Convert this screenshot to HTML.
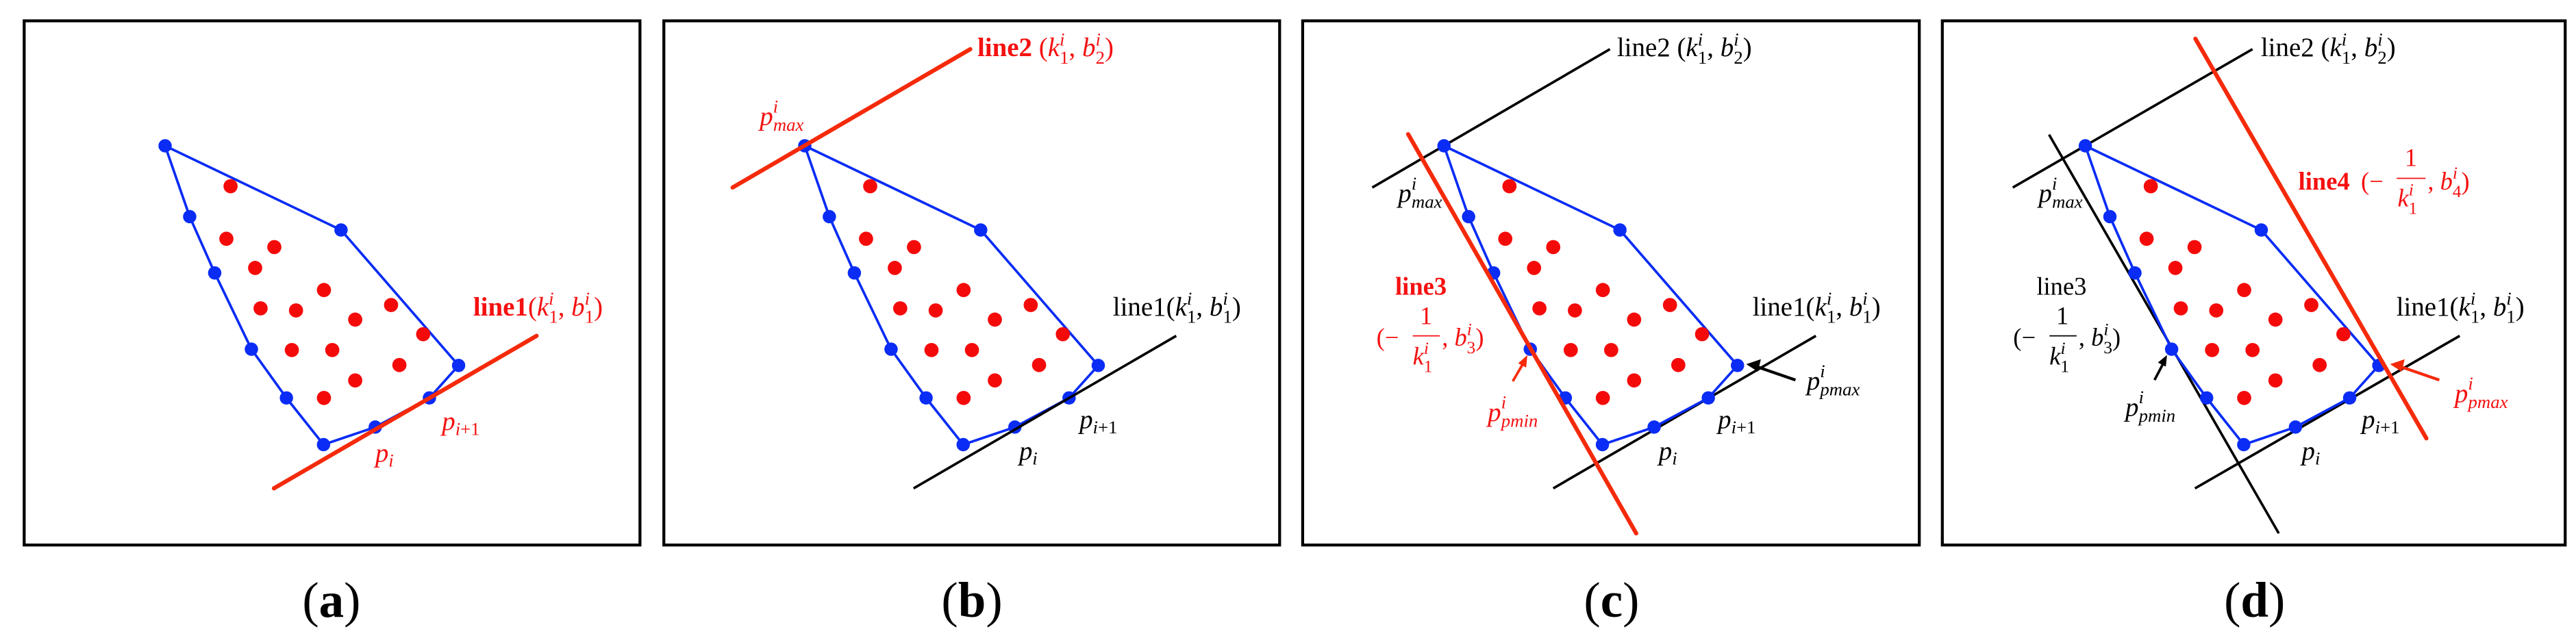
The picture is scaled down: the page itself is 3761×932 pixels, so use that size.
<!DOCTYPE html>
<html><head><meta charset="utf-8"><style>
html,body{margin:0;padding:0;background:#fff;}
svg{display:block}
text{font-family:"Liberation Serif",serif;}
.it{font-style:italic}
</style></head><body>
<svg width="3761" height="932" viewBox="0 0 3761 932" xmlns="http://www.w3.org/2000/svg">
<defs>
<g id="hull">
<polygon points="396,350 818,552 1100,877 1030,955 900,1025 776,1067 687,955 603,838 515,655 455,520" fill="none" stroke="#0a2cf5" stroke-width="6" stroke-linejoin="round"/>
<g fill="#0a2cf5">
<circle cx="396" cy="350" r="16"/><circle cx="818" cy="552" r="16"/><circle cx="1100" cy="877" r="16"/><circle cx="1030" cy="955" r="16"/><circle cx="900" cy="1025" r="16"/><circle cx="776" cy="1067" r="16"/><circle cx="687" cy="955" r="16"/><circle cx="603" cy="838" r="16"/><circle cx="515" cy="655" r="16"/><circle cx="455" cy="520" r="16"/>
</g>
<g fill="#f50a0a">
<circle cx="553" cy="447" r="17"/><circle cx="543" cy="573" r="17"/><circle cx="658" cy="593" r="17"/><circle cx="612" cy="643" r="17"/><circle cx="777" cy="696" r="17"/><circle cx="625" cy="740" r="17"/><circle cx="710" cy="745" r="17"/><circle cx="852" cy="767" r="17"/><circle cx="938" cy="732" r="17"/><circle cx="1015" cy="802" r="17"/><circle cx="700" cy="840" r="17"/><circle cx="797" cy="840" r="17"/><circle cx="958" cy="876" r="17"/><circle cx="852" cy="913" r="17"/><circle cx="777" cy="955" r="17"/>
</g>
</g>
</defs>

<!-- Panel a -->
<g transform="translate(0,0) scale(0.6087)">
<rect x="58" y="50" width="1477" height="1258" fill="none" stroke="#000" stroke-width="7"/>
<use href="#hull"/>
<line x1="657" y1="1172" x2="1287" y2="806" stroke="#f52a0a" stroke-width="10" stroke-linecap="round"/>
<text x="1135" y="757" font-size="64" fill="#f51010"><tspan font-weight="bold">line1</tspan><tspan>(</tspan><tspan class="it">k</tspan><tspan class="it" font-size="44" dy="-26">i</tspan><tspan font-size="44" dx="-12" dy="44">1</tspan><tspan dy="-18">, </tspan><tspan class="it">b</tspan><tspan class="it" font-size="44" dy="-26">i</tspan><tspan font-size="44" dx="-12" dy="44">1</tspan><tspan dy="-18">)</tspan></text>
<text x="900" y="1108" font-size="64" fill="#f51010"><tspan class="it">p</tspan><tspan class="it" font-size="44" dy="12">i</tspan></text>
<text x="1060" y="1032" font-size="64" fill="#f51010"><tspan class="it">p</tspan><tspan font-size="44" dy="12"><tspan class="it">i</tspan>+1</tspan></text>
<text x="795" y="1480" font-size="120" text-anchor="middle"><tspan>(</tspan><tspan font-weight="bold">a</tspan><tspan>)</tspan></text>
</g>

<!-- Panel b -->
<g transform="translate(940,0) scale(0.6087)">
<rect x="48" y="50" width="1477" height="1258" fill="none" stroke="#000" stroke-width="7"/>
<use href="#hull" transform="translate(-10,0)"/>
<line x1="647" y1="1172" x2="1277" y2="806" stroke="#000" stroke-width="6"/>
<line x1="213" y1="450" x2="783" y2="118" stroke="#f52a0a" stroke-width="10" stroke-linecap="round"/>
<text x="800" y="135" font-size="64" fill="#f51010"><tspan font-weight="bold">line2</tspan><tspan> (</tspan><tspan class="it">k</tspan><tspan class="it" font-size="44" dy="-26">i</tspan><tspan font-size="44" dx="-12" dy="44">1</tspan><tspan dy="-18">, </tspan><tspan class="it">b</tspan><tspan class="it" font-size="44" dy="-26">i</tspan><tspan font-size="44" dx="-12" dy="44">2</tspan><tspan dy="-18">)</tspan></text>
<text x="278" y="300" font-size="64" fill="#f51010"><tspan class="it">p</tspan><tspan class="it" font-size="44" dy="-30">i</tspan><tspan class="it" font-size="44" dx="-12" dy="44">max</tspan></text>
<text x="1125" y="757" font-size="64"><tspan>line1(</tspan><tspan class="it">k</tspan><tspan class="it" font-size="44" dy="-26">i</tspan><tspan font-size="44" dx="-12" dy="44">1</tspan><tspan dy="-18">, </tspan><tspan class="it">b</tspan><tspan class="it" font-size="44" dy="-26">i</tspan><tspan font-size="44" dx="-12" dy="44">1</tspan><tspan dy="-18">)</tspan></text>
<text x="900" y="1103" font-size="64"><tspan class="it">p</tspan><tspan class="it" font-size="44" dy="12">i</tspan></text>
<text x="1045" y="1028" font-size="64"><tspan class="it">p</tspan><tspan font-size="44" dy="12"><tspan class="it">i</tspan>+1</tspan></text>
<text x="787" y="1480" font-size="120" text-anchor="middle"><tspan>(</tspan><tspan font-weight="bold">b</tspan><tspan>)</tspan></text>
</g>

<!-- Panel c -->
<g transform="translate(1880,0) scale(0.6087)">
<rect x="36" y="50" width="1479" height="1258" fill="none" stroke="#000" stroke-width="7"/>
<line x1="203" y1="450" x2="773" y2="118" stroke="#000" stroke-width="6"/>
<line x1="637" y1="1172" x2="1267" y2="806" stroke="#000" stroke-width="6"/>
<use href="#hull" transform="translate(-21,0)"/>
<line x1="289" y1="322" x2="836" y2="1280" stroke="#f52a0a" stroke-width="10" stroke-linecap="round"/>
<text x="790" y="135" font-size="64"><tspan>line2 (</tspan><tspan class="it">k</tspan><tspan class="it" font-size="44" dy="-26">i</tspan><tspan font-size="44" dx="-12" dy="44">1</tspan><tspan dy="-18">, </tspan><tspan class="it">b</tspan><tspan class="it" font-size="44" dy="-26">i</tspan><tspan font-size="44" dx="-12" dy="44">2</tspan><tspan dy="-18">)</tspan></text>
<text x="265" y="485" font-size="64"><tspan class="it">p</tspan><tspan class="it" font-size="44" dy="-30">i</tspan><tspan class="it" font-size="44" dx="-12" dy="44">max</tspan></text>
<g fill="#f51010">
<text x="258" y="707" font-size="60" font-weight="bold">line3</text>
<text x="332" y="778" font-size="60" text-anchor="middle">1</text>
<line x1="300" y1="806" x2="365" y2="806" stroke="#f51010" stroke-width="3"/>
<text x="300" y="875" font-size="60"><tspan class="it">k</tspan><tspan class="it" font-size="42" dy="-26">i</tspan><tspan font-size="42" dx="-12" dy="44">1</tspan></text>
<text x="213" y="830" font-size="60">(−</text>
<text x="370" y="830" font-size="60"><tspan>, </tspan><tspan class="it">b</tspan><tspan class="it" font-size="42" dy="-26">i</tspan><tspan font-size="42" dx="-12" dy="44">3</tspan><tspan dy="-18">)</tspan></text>
<text x="480" y="1010" font-size="64"><tspan class="it">p</tspan><tspan class="it" font-size="44" dy="-30">i</tspan><tspan class="it" font-size="44" dx="-12" dy="44">pmin</tspan></text>
</g>
<line x1="540" y1="915" x2="565" y2="872" stroke="#f52a0a" stroke-width="6"/>
<polygon points="575,852 553,872 572,882" fill="#f52a0a"/>
<line x1="1218" y1="912" x2="1125" y2="880" stroke="#000" stroke-width="7"/>
<polygon points="1100,874 1135,862 1128,892" fill="#000"/>
<text x="1245" y="935" font-size="64"><tspan class="it">p</tspan><tspan class="it" font-size="44" dy="-30">i</tspan><tspan class="it" font-size="44" dx="-12" dy="44">pmax</tspan></text>
<text x="1115" y="757" font-size="64"><tspan>line1(</tspan><tspan class="it">k</tspan><tspan class="it" font-size="44" dy="-26">i</tspan><tspan font-size="44" dx="-12" dy="44">1</tspan><tspan dy="-18">, </tspan><tspan class="it">b</tspan><tspan class="it" font-size="44" dy="-26">i</tspan><tspan font-size="44" dx="-12" dy="44">1</tspan><tspan dy="-18">)</tspan></text>
<text x="890" y="1103" font-size="64"><tspan class="it">p</tspan><tspan class="it" font-size="44" dy="12">i</tspan></text>
<text x="1032" y="1028" font-size="64"><tspan class="it">p</tspan><tspan font-size="44" dy="12"><tspan class="it">i</tspan>+1</tspan></text>
<text x="777" y="1480" font-size="120" text-anchor="middle"><tspan>(</tspan><tspan font-weight="bold">c</tspan><tspan>)</tspan></text>
</g>

<!-- Panel d -->
<g transform="translate(2820,0) scale(0.6087)">
<rect x="26" y="50" width="1494" height="1258" fill="none" stroke="#000" stroke-width="7"/>
<line x1="195" y1="450" x2="770" y2="118" stroke="#000" stroke-width="6"/>
<line x1="632" y1="1172" x2="1267" y2="806" stroke="#000" stroke-width="6"/>
<line x1="282" y1="323" x2="833" y2="1280" stroke="#000" stroke-width="6"/>
<use href="#hull" transform="translate(-27,0)"/>
<line x1="633" y1="93" x2="1187" y2="1052" stroke="#f52a0a" stroke-width="10" stroke-linecap="round"/>
<text x="790" y="135" font-size="64"><tspan>line2 (</tspan><tspan class="it">k</tspan><tspan class="it" font-size="44" dy="-26">i</tspan><tspan font-size="44" dx="-12" dy="44">1</tspan><tspan dy="-18">, </tspan><tspan class="it">b</tspan><tspan class="it" font-size="44" dy="-26">i</tspan><tspan font-size="44" dx="-12" dy="44">2</tspan><tspan dy="-18">)</tspan></text>
<text x="257" y="485" font-size="64"><tspan class="it">p</tspan><tspan class="it" font-size="44" dy="-30">i</tspan><tspan class="it" font-size="44" dx="-12" dy="44">max</tspan></text>
<text x="252" y="707" font-size="60">line3</text>
<text x="314" y="778" font-size="60" text-anchor="middle">1</text>
<line x1="283" y1="806" x2="348" y2="806" stroke="#000" stroke-width="3"/>
<text x="283" y="875" font-size="60"><tspan class="it">k</tspan><tspan class="it" font-size="42" dy="-26">i</tspan><tspan font-size="42" dx="-12" dy="44">1</tspan></text>
<text x="196" y="830" font-size="60">(−</text>
<text x="353" y="830" font-size="60"><tspan>, </tspan><tspan class="it">b</tspan><tspan class="it" font-size="42" dy="-26">i</tspan><tspan font-size="42" dx="-12" dy="44">3</tspan><tspan dy="-18">)</tspan></text>
<text x="465" y="998" font-size="64"><tspan class="it">p</tspan><tspan class="it" font-size="44" dy="-30">i</tspan><tspan class="it" font-size="44" dx="-12" dy="44">pmin</tspan></text>
<line x1="535" y1="912" x2="556" y2="872" stroke="#000" stroke-width="6"/>
<polygon points="565,852 543,870 562,880" fill="#000"/>
<g fill="#f51010">
<text x="880" y="455" font-size="60" font-weight="bold">line4</text>
<text x="1030" y="455" font-size="60">(−</text>
<text x="1150" y="398" font-size="60" text-anchor="middle">1</text>
<line x1="1116" y1="428" x2="1185" y2="428" stroke="#f51010" stroke-width="3"/>
<text x="1118" y="495" font-size="60"><tspan class="it">k</tspan><tspan class="it" font-size="42" dy="-26">i</tspan><tspan font-size="42" dx="-12" dy="44">1</tspan></text>
<text x="1190" y="455" font-size="60"><tspan>, </tspan><tspan class="it">b</tspan><tspan class="it" font-size="42" dy="-26">i</tspan><tspan font-size="42" dx="-12" dy="44">4</tspan><tspan dy="-18">)</tspan></text>
<text x="1255" y="965" font-size="64"><tspan class="it">p</tspan><tspan class="it" font-size="44" dy="-30">i</tspan><tspan class="it" font-size="44" dx="-12" dy="44">pmax</tspan></text>
</g>
<line x1="1218" y1="912" x2="1125" y2="880" stroke="#f52a0a" stroke-width="7"/>
<polygon points="1100,874 1135,862 1128,892" fill="#f52a0a"/>
<text x="1115" y="757" font-size="64"><tspan>line1(</tspan><tspan class="it">k</tspan><tspan class="it" font-size="44" dy="-26">i</tspan><tspan font-size="44" dx="-12" dy="44">1</tspan><tspan dy="-18">, </tspan><tspan class="it">b</tspan><tspan class="it" font-size="44" dy="-26">i</tspan><tspan font-size="44" dx="-12" dy="44">1</tspan><tspan dy="-18">)</tspan></text>
<text x="888" y="1103" font-size="64"><tspan class="it">p</tspan><tspan class="it" font-size="44" dy="12">i</tspan></text>
<text x="1032" y="1028" font-size="64"><tspan class="it">p</tspan><tspan font-size="44" dy="12"><tspan class="it">i</tspan>+1</tspan></text>
<text x="775" y="1480" font-size="120" text-anchor="middle"><tspan>(</tspan><tspan font-weight="bold">d</tspan><tspan>)</tspan></text>
</g>
</svg>
</body></html>
